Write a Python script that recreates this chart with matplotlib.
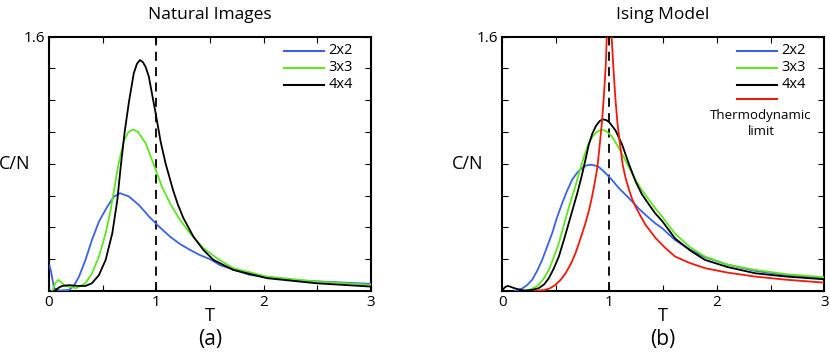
import matplotlib
matplotlib.use("Agg")
import matplotlib.pyplot as plt

plt.rcParams['font.family'] = ['Open Sans', 'DejaVu Sans']

# ---- Natural images (a) ----
nat_2x2_T = [0.005, 0.02, 0.047, 0.1, 0.186, 0.23, 0.28, 0.34, 0.40, 0.466, 0.543, 0.606,
             0.662, 0.745, 0.839, 0.932, 1.025, 1.127, 1.22, 1.314, 1.407, 1.5, 1.593,
             1.873, 2.34, 3.0]
nat_2x2_C = [0.16, 0.12, 0.017, 0.002, 0.006, 0.03, 0.09, 0.195, 0.32, 0.437, 0.53, 0.594,
             0.615, 0.594, 0.54, 0.468, 0.405, 0.342, 0.295, 0.258, 0.225, 0.2, 0.162,
             0.10, 0.065, 0.044]

nat_3x3_T = [0.03, 0.06, 0.087, 0.12, 0.155, 0.25, 0.34, 0.40, 0.466, 0.528, 0.575, 0.61,
             0.645, 0.70, 0.74, 0.783, 0.83, 0.90, 0.985, 1.05, 1.127, 1.22, 1.314, 1.438,
             1.577, 1.717, 2.03, 2.49, 3.0]
nat_3x3_C = [0.0, 0.05, 0.069, 0.05, 0.031, 0.017, 0.048, 0.11, 0.216, 0.363, 0.51, 0.65,
             0.79, 0.95, 1.0, 1.016, 1.0, 0.93, 0.78, 0.66, 0.552, 0.447, 0.363, 0.269,
             0.2, 0.143, 0.09, 0.059, 0.038]

nat_4x4_T = [0.05, 0.09, 0.124, 0.186, 0.28, 0.34, 0.40, 0.466, 0.528, 0.59, 0.637, 0.668,
             0.705, 0.745, 0.79, 0.82, 0.848, 0.875, 0.9, 0.93, 0.96, 0.994, 1.04, 1.087,
             1.158, 1.2, 1.251, 1.345, 1.438, 1.532, 1.717, 2.03, 2.49, 3.0]
nat_4x4_C = [0.0, 0.02, 0.031, 0.036, 0.031, 0.031, 0.048, 0.10, 0.195, 0.363, 0.573, 0.78,
             1.0, 1.19, 1.37, 1.43, 1.453, 1.44, 1.41, 1.35, 1.24, 1.117, 0.94, 0.80,
             0.63, 0.545, 0.46, 0.342, 0.258, 0.195, 0.132, 0.08, 0.048, 0.027]

# ---- Ising model (b) ----
ising_2x2_T = [0.12, 0.186, 0.23, 0.28, 0.325, 0.373, 0.42, 0.466, 0.51, 0.559, 0.605, 0.652,
               0.70, 0.745, 0.785, 0.823, 0.86, 0.90, 0.95, 0.994, 1.04, 1.087, 1.15, 1.211,
               1.27, 1.335, 1.425, 1.49, 1.611, 1.75, 1.89, 2.1, 2.357, 2.65, 3.0]
ising_2x2_C = [0.0, 0.015, 0.035, 0.07, 0.125, 0.195, 0.28, 0.363, 0.46, 0.552, 0.63, 0.70,
               0.745, 0.773, 0.79, 0.794, 0.79, 0.78, 0.75, 0.72, 0.685, 0.647, 0.605, 0.563,
               0.52, 0.479, 0.426, 0.395, 0.32, 0.26, 0.212, 0.165, 0.126, 0.10, 0.082]

ising_3x3_T = [0.2, 0.25, 0.30, 0.34, 0.39, 0.435, 0.48, 0.528, 0.565, 0.606, 0.645, 0.683,
               0.72, 0.76, 0.80, 0.84, 0.88, 0.925, 0.97, 1.02, 1.087, 1.165, 1.242, 1.30,
               1.366, 1.425, 1.49, 1.565, 1.611, 1.75, 1.89, 2.1, 2.357, 2.65, 3.0]
ising_3x3_C = [0.0, 0.006, 0.02, 0.038, 0.08, 0.132, 0.21, 0.30, 0.39, 0.49, 0.58, 0.66,
               0.75, 0.84, 0.92, 0.97, 1.0, 1.016, 1.005, 0.975, 0.90, 0.80, 0.70, 0.635,
               0.575, 0.52, 0.468, 0.40, 0.36, 0.275, 0.216, 0.165, 0.132, 0.105, 0.086]

ising_4x4_T = [0.0, 0.015, 0.031, 0.05, 0.07, 0.1, 0.124, 0.17, 0.217, 0.28, 0.34, 0.39,
               0.435, 0.48, 0.528, 0.575, 0.62, 0.66, 0.70, 0.74, 0.776, 0.807, 0.84, 0.875,
               0.91, 0.938, 0.97, 1.0, 1.056, 1.118, 1.18, 1.242, 1.30, 1.366, 1.425, 1.49,
               1.611, 1.75, 1.89, 2.1, 2.357, 2.65, 3.0]
ising_4x4_C = [0.005, 0.015, 0.025, 0.031, 0.028, 0.02, 0.015, 0.006, 0.002, 0.006, 0.017, 0.04,
               0.08, 0.14, 0.216, 0.32, 0.426, 0.52, 0.615, 0.72, 0.825, 0.92, 0.99, 1.04,
               1.07, 1.08, 1.075, 1.06, 1.01, 0.92, 0.80, 0.69, 0.61, 0.545, 0.489, 0.44,
               0.33, 0.255, 0.195, 0.15, 0.111, 0.09, 0.073]

ising_inf_T = [0.3, 0.40, 0.45, 0.497, 0.545, 0.59, 0.64, 0.683, 0.73, 0.776, 0.81, 0.838,
               0.862, 0.885, 0.90, 0.915, 0.932, 0.95, 0.965, 0.975, 0.985, 0.995, 1.0,
               1.005, 1.012, 1.02, 1.035, 1.056, 1.075, 1.093, 1.11, 1.124, 1.15, 1.18, 1.21,
               1.242, 1.29, 1.335, 1.43, 1.52, 1.611, 1.75, 1.89, 2.1, 2.357, 2.65, 3.0]
ising_inf_C = [0.0, 0.006, 0.018, 0.038, 0.07, 0.11, 0.17, 0.237, 0.33, 0.426, 0.51, 0.594,
               0.68, 0.77, 0.86, 0.96, 1.08, 1.25, 1.42, 1.6, 1.85, 2.3, 2.8,
               2.3, 1.9, 1.6, 1.42, 1.2, 1.05, 0.95, 0.86, 0.79, 0.71, 0.64, 0.58,
               0.531, 0.47, 0.416, 0.332, 0.27, 0.216, 0.175, 0.143, 0.115, 0.09, 0.07, 0.052]

BLUE = '#3a62e6'
GREEN = '#5ee61e'
BLACK = '#000000'
RED = '#f01a0a'

fig = plt.figure(figsize=(8.3, 3.6), dpi=100)
ax_a = fig.add_axes([0.059, 0.192, 0.388, 0.706])
ax_b = fig.add_axes([0.605, 0.192, 0.388, 0.706])


def style_axes(ax, title, letter):
    ax.set_xlim(0, 3)
    ax.set_ylim(0, 1.6)
    ax.set_xticks([0, 0.5, 1, 1.5, 2, 2.5, 3])
    ax.set_xticklabels(['0', '', '1', '', '2', '', '3'])
    ax.set_yticks([0, 0.2, 0.4, 0.6, 0.8, 1.0, 1.2, 1.4, 1.6])
    ax.set_yticklabels([''] * 8 + ['1.6'])
    ax.tick_params(direction='in', top=True, right=True, length=4, width=0.8,
                   labelsize=11, pad=3)
    for s in ax.spines.values():
        s.set_linewidth(1.5)
    ax.axvline(1, color='black', lw=1.3, ls=(0, (5, 3.5)), zorder=1)
    ax.set_title(title, fontsize=12.5, pad=13)
    ax.set_xlabel('T', fontsize=13, labelpad=-2)
    ax.set_ylabel('C/N', fontsize=13, rotation=0, va='center')
    ax.yaxis.set_label_coords(-0.107, 0.5)
    ax.text(0.5, -0.193, letter, transform=ax.transAxes, ha='center', va='center', fontsize=15)


def legend_entry(ax, y, color, label):
    ax.plot([0.73, 0.855], [y, y], color=color, lw=1.5, transform=ax.transAxes, clip_on=False)
    ax.text(0.868, y, label, transform=ax.transAxes, va='center', ha='left', fontsize=10.5)


# (a)
ax_a.plot(nat_2x2_T, nat_2x2_C, color=BLUE, lw=1.3, zorder=3)
ax_a.plot(nat_3x3_T, nat_3x3_C, color=GREEN, lw=1.3, zorder=3)
ax_a.plot(nat_4x4_T, nat_4x4_C, color=BLACK, lw=1.3, zorder=4)
style_axes(ax_a, 'Natural Images', '(a)')
legend_entry(ax_a, 0.945, BLUE, '2x2')
legend_entry(ax_a, 0.878, GREEN, '3x3')
legend_entry(ax_a, 0.811, BLACK, '4x4')

# (b)
ax_b.plot(ising_2x2_T, ising_2x2_C, color=BLUE, lw=1.3, zorder=3)
ax_b.plot(ising_3x3_T, ising_3x3_C, color=GREEN, lw=1.3, zorder=3)
ax_b.plot(ising_4x4_T, ising_4x4_C, color=BLACK, lw=1.3, zorder=4)
ax_b.plot(ising_inf_T, ising_inf_C, color=RED, lw=1.3, zorder=5)
style_axes(ax_b, 'Ising Model', '(b)')
legend_entry(ax_b, 0.945, BLUE, '2x2')
legend_entry(ax_b, 0.878, GREEN, '3x3')
legend_entry(ax_b, 0.811, BLACK, '4x4')
ax_b.plot([0.73, 0.855], [0.756, 0.756], color=RED, lw=1.5, transform=ax_b.transAxes)
ax_b.text(0.804, 0.689, 'Thermodynamic', transform=ax_b.transAxes, ha='center', va='center', fontsize=9.5)
ax_b.text(0.804, 0.626, 'limit', transform=ax_b.transAxes, ha='center', va='center', fontsize=9.5)

fig.savefig('out.png', dpi=100)
